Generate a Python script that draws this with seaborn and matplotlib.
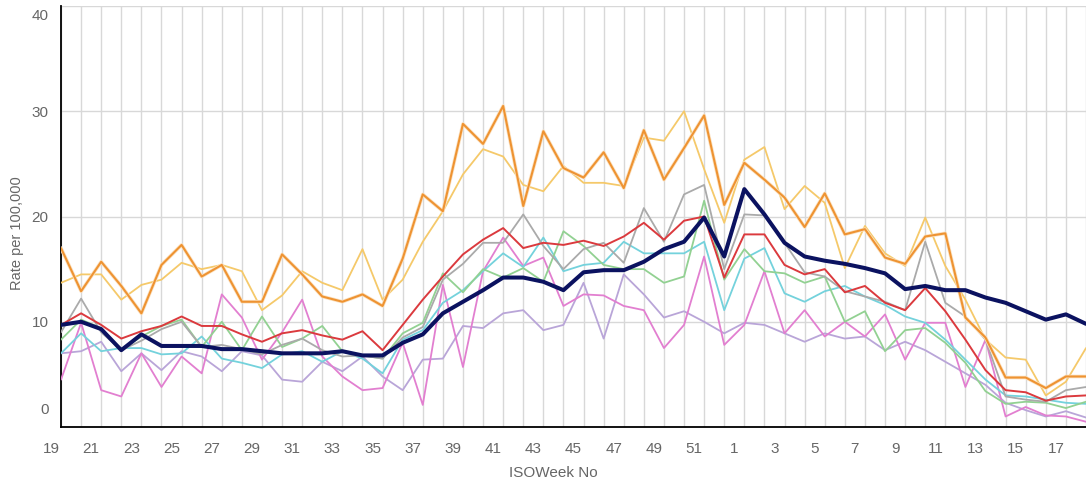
import numpy as np
import pandas as pd
import matplotlib
matplotlib.use("Agg")
import matplotlib.pyplot as plt
import matplotlib.transforms as mtransforms
import matplotlib.patheffects as pe
import seaborn as sns

# ISO weeks 19..52 then 1..18
weeks = list(range(19, 53)) + list(range(1, 19))

navy = [9.7, 10.0, 9.3, 7.3, 8.8, 7.7, 7.7, 7.7, 7.4, 7.4, 7.2, 7.0, 7.0, 7.0, 7.2, 6.8, 6.8,
        8.0, 8.8, 10.8, 11.9, 13.0, 14.2, 14.2, 13.8, 13.0, 14.7, 14.9, 14.9, 15.7, 16.9, 17.6,
        19.9, 16.2, 22.6, 20.2, 17.5, 16.2, 15.8, 15.5, 15.1, 14.6, 13.1, 13.4, 13.0, 13.0, 12.3,
        11.8, 11.0, 10.2, 10.7, 9.8]
orange = [17.0, 12.9, 15.7, 13.4, 10.8, 15.4, 17.3, 14.3, 15.4, 11.9, 11.9, 16.4, 14.5, 12.4,
          11.9, 12.6, 11.5, 16.0, 22.1, 20.5, 28.8, 26.9, 30.5, 21.0, 28.1, 24.6, 23.7, 26.1,
          22.7, 28.2, 23.5, 26.5, 29.6, 21.1, 25.1, 23.5, 21.8, 19.0, 22.2, 18.3, 18.8, 16.1,
          15.5, 18.1, 18.4, 10.4, 8.5, 4.7, 4.7, 3.7, 4.8, 4.8]
yellow = [13.7, 14.5, 14.5, 12.1, 13.5, 14.0, 15.6, 15.0, 15.4, 14.8, 11.1, 12.5, 14.8, 13.7,
          13.0, 16.9, 12.1, 14.0, 17.6, 20.5, 24.0, 26.4, 25.7, 23.0, 22.4, 24.8, 23.2, 23.2,
          22.9, 27.5, 27.2, 30.0, 24.5, 19.4, 25.4, 26.6, 20.7, 22.9, 21.3, 15.1, 19.1, 16.5,
          15.3, 19.9, 15.3, 12.1, 8.3, 6.6, 6.4, 3.0, 4.3, 7.5]
gray = [9.0, 12.2, 9.0, 7.3, 8.2, 9.3, 10.0, 7.6, 7.8, 7.4, 6.9, 7.8, 8.4, 7.3, 6.7, 6.8, 6.5,
        8.5, 9.5, 14.0, 15.5, 17.5, 17.5, 20.2, 17.2, 15.0, 16.9, 17.5, 15.6, 20.8, 17.6, 22.1,
        23.0, 15.0, 20.2, 20.1, 17.5, 14.7, 14.3, 12.9, 12.4, 11.9, 11.1, 17.6, 11.8, 10.5, 8.3,
        2.9, 2.6, 2.4, 3.5, 3.8]
red = [9.7, 10.8, 9.7, 8.4, 9.1, 9.6, 10.5, 9.6, 9.6, 8.8, 8.1, 8.9, 9.2, 8.7, 8.3, 9.1, 7.3,
       9.7, 12.1, 14.3, 16.4, 17.8, 18.9, 17.0, 17.5, 17.3, 17.7, 17.2, 18.1, 19.4, 17.8, 19.6,
       20.0, 14.2, 18.3, 18.3, 15.4, 14.5, 15.0, 12.8, 13.4, 11.8, 11.1, 13.2, 11.0, 8.3, 5.4,
       3.5, 3.3, 2.5, 2.9, 3.0]
green = [8.3, 10.2, 9.4, 7.3, 8.6, 9.6, 10.2, 7.6, 10.0, 7.3, 10.5, 7.6, 8.4, 9.6, 7.2, 6.8, 6.5,
         8.9, 9.9, 14.6, 12.8, 15.0, 14.2, 15.1, 13.8, 18.6, 17.2, 15.4, 15.0, 15.0, 13.7, 14.3,
         21.5, 14.0, 16.9, 14.8, 14.6, 13.7, 14.3, 10.0, 11.0, 7.2, 9.2, 9.4, 8.0, 6.1, 3.4, 2.2,
         2.4, 2.3, 1.8, 2.4]
teal = [7.0, 8.9, 7.2, 7.5, 7.5, 6.9, 7.0, 8.6, 6.5, 6.1, 5.6, 6.9, 7.2, 6.2, 7.2, 6.5, 5.1,
        8.3, 9.2, 11.8, 13.0, 14.8, 16.5, 15.2, 18.0, 14.8, 15.4, 15.6, 17.6, 16.5, 16.5, 16.5,
        17.6, 11.1, 16.0, 17.0, 12.7, 11.9, 12.9, 13.4, 12.4, 11.6, 10.5, 9.9, 8.3, 6.4, 4.5, 3.0,
        2.9, 2.6, 2.3, 2.2]
pink = [4.5, 9.9, 3.5, 2.9, 7.0, 3.8, 6.7, 5.1, 12.6, 10.4, 6.4, 9.0, 12.1, 6.7, 4.8, 3.5, 3.7,
        8.0, 2.1, 13.5, 5.7, 14.8, 18.0, 15.3, 16.1, 11.5, 12.6, 12.5, 11.5, 11.1, 7.5, 9.7, 16.2,
        7.8, 9.7, 14.8, 8.9, 11.1, 8.6, 10.0, 8.6, 10.7, 6.4, 9.9, 9.9, 3.8, 8.3, 1.0, 1.9, 1.1,
        1.0, 0.5]
lavender = [7.0, 7.2, 8.1, 5.3, 7.0, 5.4, 7.2, 6.7, 5.3, 7.2, 6.8, 4.5, 4.3, 6.2, 5.3, 6.7, 4.8,
            3.5, 6.4, 6.5, 9.6, 9.4, 10.8, 11.1, 9.2, 9.7, 13.7, 8.4, 14.5, 12.6, 10.4, 11.0,
            10.0, 8.9, 9.9, 9.7, 8.9, 8.1, 8.9, 8.4, 8.6, 7.3, 8.1, 7.3, 6.2, 5.1, 4.0, 2.3, 1.6,
            1.0, 1.5, 0.9]

# drawing order: back to front
series = [
    ("lavender", lavender, "#b9a5d8", 1.3),
    ("pink", pink, "#e27fd0", 1.3),
    ("teal", teal, "#74d2dc", 1.3),
    ("green", green, "#92d192", 1.3),
    ("gray", gray, "#aaaaaa", 1.3),
    ("red", red, "#db3a3e", 1.4),
    ("yellow", yellow, "#f5c96a", 1.3),
    ("orange", orange, "#ee9332", 1.5),
    ("navy", navy, "#0b1260", 2.9),
]

idx = np.arange(len(weeks))
df = pd.concat([pd.DataFrame({"pos": idx, "rate": vals, "series": name})
                for name, vals, _, _ in series])

sns.set_style("white")
plt.rcParams["font.family"] = ["Liberation Sans", "DejaVu Sans"]

fig = plt.figure(figsize=(10.86, 4.84), dpi=100)
ax = fig.add_axes([61 / 1086, 57 / 484, 1025 / 1086, 421 / 484])

for name, vals, color, lw in series:
    sub = df[df["series"] == name]
    sns.lineplot(data=sub, x="pos", y="rate", color=color, linewidth=lw, ax=ax,
                 legend=False, zorder=3)
    if name == "orange":
        ax.lines[-1].set_path_effects([pe.Stroke(linewidth=2.6, foreground="#fbe2c2"), pe.Normal()])

ax.set_xlim(0, 1025 / 20.21)
ax.set_ylim(0, 40)
ax.set_xticks(idx)
ax.set_xticklabels([str(w) if i % 2 == 0 else "" for i, w in enumerate(weeks)])
ax.set_yticks([0, 10, 20, 30, 40])
ax.grid(True, color="#d8d8d8", linewidth=1.0, zorder=0)
ax.set_axisbelow(True)

for s in ["top", "right"]:
    ax.spines[s].set_visible(False)
for s in ["left", "bottom"]:
    ax.spines[s].set_color("black")
    ax.spines[s].set_linewidth(1.3)

ax.tick_params(axis="both", direction="out", length=6, width=1.2, color="black",
               labelcolor="#666666", labelsize=11)
ax.tick_params(axis="x", pad=5)
ax.tick_params(axis="y", pad=3)

# labels sit a little left of their ticks, end labels of the y axis are pulled inward
shift_x = mtransforms.ScaledTranslation(-10 / 100, 0, fig.dpi_scale_trans)
for lab in ax.get_xticklabels():
    lab.set_transform(lab.get_transform() + shift_x)
ylabs = ax.get_yticklabels()
ylabs[0].set_transform(ylabs[0].get_transform() + mtransforms.ScaledTranslation(0, 18 / 100, fig.dpi_scale_trans))
ylabs[-1].set_transform(ylabs[-1].get_transform() + mtransforms.ScaledTranslation(0, -9 / 100, fig.dpi_scale_trans))

ax.set_xlabel("ISOWeek No", color="#666666", fontsize=11)
ax.set_ylabel("Rate per 100,000", color="#666666", fontsize=10.5)
ax.xaxis.set_label_coords(0.48, -0.092)
ax.yaxis.set_label_coords(-0.036, 0.46)

fig.savefig("out.png", dpi=100)
